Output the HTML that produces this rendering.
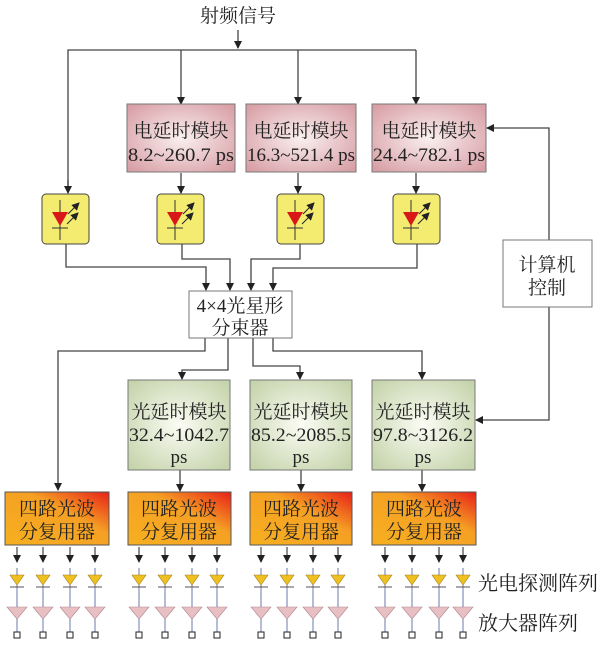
<!DOCTYPE html>
<html><head><meta charset="utf-8"><style>
html,body{margin:0;padding:0;background:#fff;}
svg{display:block;}
text{font-family:"Liberation Serif","Noto Serif CJK SC",serif;fill:#222;}
</style></head><body>
<svg width="600" height="645" viewBox="0 0 600 645" xmlns="http://www.w3.org/2000/svg">
<defs>
<marker id="a" markerWidth="8" markerHeight="8" refX="7" refY="4" orient="auto" markerUnits="userSpaceOnUse"><path d="M0,0 L8,4 L0,8 Z" fill="#222"/></marker>
<radialGradient id="pk" cx="50%" cy="50%" r="65%"><stop offset="0" stop-color="#faf0f0"/><stop offset="1" stop-color="#d8a0a6"/></radialGradient>
<radialGradient id="gr" cx="50%" cy="50%" r="65%"><stop offset="0" stop-color="#fbfcf4"/><stop offset="1" stop-color="#c6d4ac"/></radialGradient>
<linearGradient id="or" x1="0" y1="1" x2="1" y2="0"><stop offset="0" stop-color="#f6b020"/><stop offset="0.6" stop-color="#f5a024"/><stop offset="1" stop-color="#e82018"/></linearGradient>
<g id="led"><rect x="0" y="0" width="47" height="50" rx="4" fill="#f3ec70" stroke="#444" stroke-width="1"/>
<line x1="18" y1="6" x2="18" y2="46" stroke="#333"/><path d="M10,18 L26,18 L18,32 Z" fill="#d81818"/><line x1="10" y1="34" x2="26" y2="34" stroke="#333"/>
<line x1="26" y1="20" x2="37" y2="9" stroke="#222" marker-end="url(#a)"/><line x1="25" y1="30" x2="36" y2="19" stroke="#222" marker-end="url(#a)"/></g>
<g id="ch"><line x1="0" y1="547" x2="0" y2="562" stroke="#222" marker-end="url(#a)"/>
<line x1="0" y1="568" x2="0" y2="633" stroke="#6c78b0"/>
<path d="M-7,575 L7,575 L0,585 Z" fill="#f0c020" stroke="#a08020" stroke-width="0.6"/><line x1="-7" y1="587" x2="7" y2="587" stroke="#555"/>
<path d="M-10,607 L10,607 L0,619 Z" fill="#e8c0c4" stroke="#b08890" stroke-width="0.6"/>
<rect x="-3" y="632" width="6" height="6" fill="#fff" stroke="#222"/></g>
</defs>
<g stroke="#444" stroke-width="1.3" fill="none">
<line x1="238" y1="30" x2="238" y2="48" marker-end="url(#a)"/>
<polyline points="68,192 68,50 416,50"/>
<line x1="68" y1="180" x2="68" y2="193" marker-end="url(#a)"/>
<line x1="181" y1="50" x2="181" y2="104" marker-end="url(#a)"/>
<line x1="298" y1="50" x2="298" y2="104" marker-end="url(#a)"/>
<line x1="416" y1="50" x2="416" y2="104" marker-end="url(#a)"/>
<line x1="181" y1="173" x2="181" y2="193" marker-end="url(#a)"/>
<line x1="298" y1="173" x2="298" y2="193" marker-end="url(#a)"/>
<line x1="416" y1="173" x2="416" y2="193" marker-end="url(#a)"/>
<polyline points="66,244 66,267 206,267 206,290" marker-end="url(#a)"/>
<polyline points="182,244 182,259 230,259 230,290" marker-end="url(#a)"/>
<polyline points="300,244 300,259 251,259 251,290" marker-end="url(#a)"/>
<polyline points="417,244 417,268 273,268 273,290" marker-end="url(#a)"/>
<polyline points="549,240 549,128 487,128" marker-end="url(#a)"/>
<polyline points="549,307 549,420 476,420" marker-end="url(#a)"/>
<polyline points="205,338 205,351 58,351 58,490" marker-end="url(#a)"/>
<polyline points="228,338 228,370 182,370 182,379" marker-end="url(#a)"/>
<polyline points="253,338 253,366 300,366 300,379" marker-end="url(#a)"/>
<polyline points="273,338 273,351 422,351 422,379" marker-end="url(#a)"/>
<line x1="180" y1="470" x2="180" y2="491" marker-end="url(#a)"/>
<line x1="301" y1="470" x2="301" y2="491" marker-end="url(#a)"/>
<line x1="422" y1="470" x2="422" y2="491" marker-end="url(#a)"/>
</g>
<text x="238" y="22" font-size="19" text-anchor="middle">射频信号</text>
<rect x="127" y="104" width="108" height="68" fill="url(#pk)" stroke="#777"/>
<rect x="246" y="104" width="110" height="68" fill="url(#pk)" stroke="#777"/>
<rect x="372" y="104" width="114" height="68" fill="url(#pk)" stroke="#777"/>
<g font-size="19" text-anchor="middle">
<text x="181" y="137">电延时模块</text><text x="181" y="161" textLength="106" lengthAdjust="spacingAndGlyphs">8.2~260.7 ps</text>
<text x="301" y="137">电延时模块</text><text x="301" y="161" textLength="108" lengthAdjust="spacingAndGlyphs">16.3~521.4 ps</text>
<text x="429" y="137">电延时模块</text><text x="429" y="161" textLength="112" lengthAdjust="spacingAndGlyphs">24.4~782.1 ps</text>
</g>
<use href="#led" x="42" y="194"/><use href="#led" x="157" y="194"/><use href="#led" x="277" y="194"/><use href="#led" x="393" y="194"/>
<rect x="189" y="291" width="103" height="47" fill="#fff" stroke="#777"/>
<text x="240" y="312" font-size="19" text-anchor="middle">4×4光星形</text>
<text x="240" y="334" font-size="19" text-anchor="middle">分束器</text>
<rect x="503" y="240" width="89" height="67" fill="#fff" stroke="#777"/>
<text x="547" y="271" font-size="19" text-anchor="middle">计算机</text>
<text x="547" y="294" font-size="19" text-anchor="middle">控制</text>
<rect x="128" y="380" width="102" height="90" fill="url(#gr)" stroke="#777"/>
<rect x="250" y="380" width="102" height="90" fill="url(#gr)" stroke="#777"/>
<rect x="372" y="380" width="103" height="90" fill="url(#gr)" stroke="#777"/>
<g font-size="19" text-anchor="middle">
<text x="179" y="418">光延时模块</text><text x="179" y="441" textLength="100" lengthAdjust="spacingAndGlyphs">32.4~1042.7</text><text x="179" y="463">ps</text>
<text x="301" y="418">光延时模块</text><text x="301" y="441" textLength="100" lengthAdjust="spacingAndGlyphs">85.2~2085.5</text><text x="301" y="463">ps</text>
<text x="423" y="418">光延时模块</text><text x="423" y="441" textLength="100" lengthAdjust="spacingAndGlyphs">97.8~3126.2</text><text x="423" y="463">ps</text>
</g>
<g stroke="#555"><rect x="5" y="492" width="104" height="53" fill="url(#or)"/><rect x="128" y="492" width="103" height="53" fill="url(#or)"/><rect x="250" y="492" width="102" height="53" fill="url(#or)"/><rect x="372" y="492" width="104" height="53" fill="url(#or)"/></g>
<g font-size="19" text-anchor="middle">
<text x="57" y="515">四路光波</text><text x="57" y="538">分复用器</text>
<text x="179" y="515">四路光波</text><text x="179" y="538">分复用器</text>
<text x="301" y="515">四路光波</text><text x="301" y="538">分复用器</text>
<text x="424" y="515">四路光波</text><text x="424" y="538">分复用器</text>
</g>
<use href="#ch" x="17"/><use href="#ch" x="43"/><use href="#ch" x="70"/><use href="#ch" x="95"/>
<use href="#ch" x="139"/><use href="#ch" x="165"/><use href="#ch" x="192"/><use href="#ch" x="217"/>
<use href="#ch" x="261"/><use href="#ch" x="287"/><use href="#ch" x="313"/><use href="#ch" x="338"/>
<use href="#ch" x="385"/><use href="#ch" x="412"/><use href="#ch" x="439"/><use href="#ch" x="463"/>
<text x="478" y="590" font-size="20">光电探测阵列</text>
<text x="478" y="630" font-size="20">放大器阵列</text>
</svg>
</body></html>
